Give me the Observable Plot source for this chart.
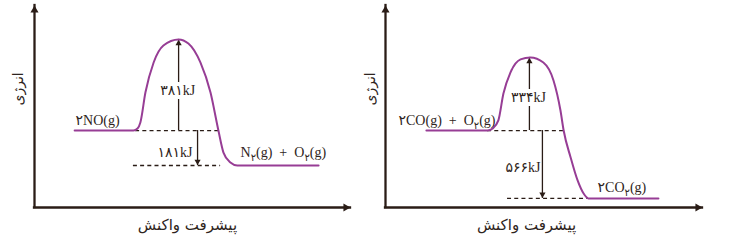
<!DOCTYPE html>
<html><head><meta charset="utf-8">
<script src="https://cdn.jsdelivr.net/npm/d3@7"></script>
<script src="https://cdn.jsdelivr.net/npm/@observablehq/plot@0.6"></script>
<style>
body{margin:0;background:#fff;}
#wrap{display:flex;width:741px;height:244px;}
#wrap svg{display:block;}
</style></head><body><div id="wrap"></div>
<script>
// Schematic reaction-progress (0–100) and energy (0–100) values
const noProgress = [12.7,31.3,32.6,33.5,35.1,37.7,40.8,45.6,48.7,52.5,55.7,58.2,59.8,62.0,64.2,89.9];
const noEnergy   = [38.1,38.1,39.1,42.1,56.9,71.8,80.2,83.2,81.2,71.8,56.9,38.1,27.2,22.3,20.8,20.8];
const coProgress = [12.9,32.2,33.8,35.6,37.2,39.4,42.6,45.7,49.8,53.0,55.2,56.2,58.4,60.6,62.5,64.0,86.1];
const coEnergy   = [38.1,38.1,39.1,43.1,56.4,66.8,73.3,74.3,71.8,62.9,48.0,38.1,24.8,13.4,6.9,4.5,4.5];
// levels: reactants, products, transition state
const noLevels = [38.1, 20.8, 83.2];
const coLevels = [38.1, 4.5, 74.3];
// labels: reactants, products, activation energy, reaction enthalpy
const noLabels = ["۲NO(g)", "N_۲(g)  +  O_۲(g)", "۳۸۱kJ", "۱۸۱kJ"];
const coLabels = ["۲CO(g)  +  O_۲(g)", "۲CO_۲(g)", "۳۳۴kJ", "۵۶۶kJ"];
const axisTitles = ["پیشرفت واکنش", "انرژی"];

const purple = "#973d95", ink = "#2a1c16", txt = "#2e2420";
const serif = "'Liberation Serif', 'DejaVu Sans', serif";

function panel(o) {
  const [rE, pE, tE] = o.levels;
  const dash = {stroke: ink, strokeWidth: 1.3, strokeDasharray: "4,3.2"};
  const svg = Plot.plot({
    width: o.width, height: 244,
    marginLeft: o.ml, marginRight: o.mr, marginTop: 5, marginBottom: 37,
    x: {domain: [0, 100], axis: null},
    y: {domain: [0, 100], axis: null},
    style: {fontFamily: serif, fontSize: "14px", color: txt, background: "transparent", overflow: "visible"},
    marks: [
      // axes
      Plot.ruleX([0], {y1: 0, y2: 100, stroke: ink, strokeWidth: 2.3, strokeLinecap: "square"}),
      Plot.ruleY([0], {x1: 0, x2: 100, stroke: ink, strokeWidth: 2.3, strokeLinecap: "square"}),
      Plot.dot([0], {x: 0, y: 100, symbol: "triangle", r: 3, fill: ink, stroke: null, dy: 4.7}),
      Plot.dot([0], {x: 100, y: 0, symbol: "triangle", r: 3, fill: ink, stroke: null, rotate: 90, dx: -4.7}),
      // dashed levels
      Plot.ruleY([rE], {x1: o.dashR[0], x2: o.dashR[1], ...dash}),
      Plot.ruleY([pE], {x1: o.dashP[0], x2: o.dashP[1], ...dash}),
      // energy arrows
      Plot.ruleX([o.upX], {y1: rE, y2: tE, stroke: ink, strokeWidth: 1.3}),
      Plot.dot([0], {x: o.upX, y: tE, symbol: "triangle", r: 2.3, fill: ink, stroke: null, dy: 4}),
      Plot.ruleX([o.downX], {y1: rE, y2: pE, stroke: ink, strokeWidth: 1.3}),
      Plot.dot([0], {x: o.downX, y: pE, symbol: "triangle", r: 2.3, fill: ink, stroke: null, rotate: 180, dy: -4}),
      // reaction curve
      Plot.line(o.energy, {x: o.progress, y: o.energy, curve: "monotone-x", stroke: purple, strokeWidth: 2}),
      // labels
      Plot.text([o.labels[0]], {x: o.rLab[0], y: o.rLab[1], text: d => d, textAnchor: "start", fill: txt}),
      Plot.text([o.labels[1]], {x: o.pLab[0], y: o.pLab[1], text: d => d, textAnchor: "start", fill: txt}),
      Plot.text([o.labels[2]], {x: o.aLab[0], y: o.aLab[1], text: d => d, textAnchor: "middle", fill: txt, stroke: "white", strokeWidth: 8}),
      Plot.text([o.labels[3]], {x: o.hLab[0], y: o.hLab[1], text: d => d, textAnchor: "end", fill: txt}),
      Plot.text([axisTitles[0]], {x: o.xt, frameAnchor: "bottom", dy: 22, text: d => d, fontFamily: "'DejaVu Sans', sans-serif", fontSize: 15, fill: txt}),
      Plot.text([axisTitles[1]], {y: 50.5, frameAnchor: "left", dx: o.ytdx, rotate: -90, text: d => d, fontFamily: "'DejaVu Sans', sans-serif", fontSize: 14, fill: txt})
    ]
  });
  // subscripts
  svg.querySelectorAll("text").forEach(t => {
    const s = t.textContent;
    if (!s.includes("_")) return;
    t.textContent = "";
    s.split(/_(.)/).forEach((part, i) => {
      if (!part) return;
      const ts = document.createElementNS("http://www.w3.org/2000/svg", "tspan");
      ts.textContent = part;
      if (i % 2) { ts.setAttribute("dy", "4"); ts.setAttribute("font-size", "10"); }
      else if (i > 0) ts.setAttribute("dy", "-4");
      t.appendChild(ts);
    });
  });
  return svg;
}

const wrap = document.getElementById("wrap");
wrap.appendChild(panel({
  width: 355, ml: 34, mr: 5,
  progress: noProgress, energy: noEnergy, levels: noLevels, labels: noLabels,
  dashR: [32.0, 58.9], dashP: [31.3, 58.9], upX: 45.6, downX: 51.6,
  rLab: [13.0, 43.1], pLab: [65.2, 27.2], aLab: [45.3, 57.9], hLab: [50.0, 27.2],
  xt: 48.4, ytdx: -16
}));
wrap.appendChild(panel({
  width: 386, ml: 30, mr: 39,
  progress: coProgress, energy: coEnergy, levels: coLevels, labels: coLabels,
  dashR: [32.2, 56.2], dashP: [38.5, 63.7], upX: 45.4, downX: 49.5,
  rLab: [4.1, 43.1], pLab: [66.9, 9.9], aLab: [45.1, 54.5], hLab: [48.9, 19.8],
  xt: 44.5, ytdx: -15
}));
</script></body></html>
